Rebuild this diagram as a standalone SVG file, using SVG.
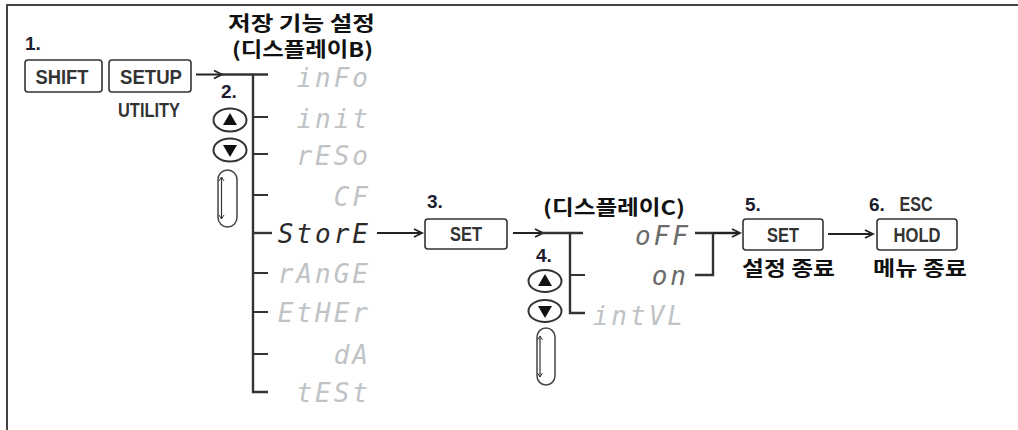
<svg xmlns="http://www.w3.org/2000/svg" width="1018" height="430" viewBox="0 0 1018 430">
<defs>
<style>
.frame{stroke:#444;stroke-width:2;fill:none}
.btn{fill:#fff;stroke:#333;stroke-width:1.6}
.btxt{font-family:"Liberation Sans",Arial,sans-serif;font-weight:bold;font-size:20px;fill:#333;text-anchor:middle}
.num{font-family:"Liberation Sans",Arial,sans-serif;font-weight:bold;font-size:19px;fill:#1c1c2e}
.kr{font-family:"Noto Sans CJK KR","Noto Sans",sans-serif;font-weight:bold;font-size:20px;fill:#111}
.seg{font-family:"DejaVu Sans Mono",monospace;font-style:italic;font-size:26px;letter-spacing:3px;text-anchor:end}
.off{fill:#bfc3c6}
.mid{fill:#6b6b6b}
.on{fill:#2a2a2a}
.ln{stroke:#333;stroke-width:2.4;fill:none}
.tk{stroke:#333;stroke-width:2;fill:none}
.ar{stroke:#222;stroke-width:2;fill:none;marker-end:url(#chev)}
.oval{fill:#fff;stroke:#333;stroke-width:2}
.tri{fill:#111}
.pill{fill:none;stroke:#444;stroke-width:1.5}
.dar{stroke:#333;stroke-width:1.2;fill:none;marker-start:url(#sch);marker-end:url(#sch)}
</style>
<marker id="chev" viewBox="0 0 10 10" markerWidth="10" markerHeight="10" refX="9" refY="5" orient="auto" markerUnits="userSpaceOnUse" overflow="visible">
<path d="M1,1 L9,5 L1,9" fill="none" stroke="#222" stroke-width="1.8"/>
</marker>
<marker id="sch" viewBox="0 0 6 6" markerWidth="6" markerHeight="6" refX="5" refY="3" orient="auto-start-reverse" markerUnits="userSpaceOnUse" overflow="visible">
<path d="M1,0.5 L5,3 L1,5.5" fill="none" stroke="#333" stroke-width="1"/>
</marker>
</defs>
<rect width="1018" height="430" fill="#fff"/>
<path class="frame" d="M7,430 V5 H1018"/>

<g id="title">
<text class="kr" x="228" y="31" font-size="18" textLength="147" lengthAdjust="spacingAndGlyphs">저장 기능 설정</text>
<text class="kr" x="232" y="57" font-size="18" textLength="141" lengthAdjust="spacingAndGlyphs">(디스플레이B)</text>
</g>

<g id="step1">
<text class="num" x="25" y="50">1.</text>
<rect class="btn" x="25" y="60" width="77" height="32" rx="3"/>
<text class="btxt" x="62" y="84" textLength="53" lengthAdjust="spacingAndGlyphs">SHIFT</text>
<rect class="btn" x="109" y="60" width="82" height="32" rx="3"/>
<text class="btxt" x="151" y="84" textLength="62" lengthAdjust="spacingAndGlyphs">SETUP</text>
<text class="btxt" x="149" y="117" font-size="18" textLength="62" lengthAdjust="spacingAndGlyphs">UTILITY</text>
</g>

<g id="step2">
<text class="num" x="221" y="98">2.</text>
<ellipse class="oval" cx="230" cy="120" rx="16.5" ry="11.5"/>
<polygon class="tri" points="223,125 237,125 230,113"/>
<ellipse class="oval" cx="230" cy="150" rx="16.5" ry="11.5"/>
<polygon class="tri" points="223,145 237,145 230,157"/>
<rect class="pill" x="218" y="170" width="19" height="57" rx="9.5"/>
<line class="dar" x1="221.5" y1="177" x2="221.5" y2="219"/>
</g>

<g id="menu">
<text class="seg off" x="371" y="87">inFo</text>
<text class="seg off" x="371" y="128">init</text>
<text class="seg off" x="371" y="165">rESo</text>
<text class="seg off" x="371" y="206">CF</text>
<text class="seg on" x="371" y="243">StorE</text>
<text class="seg off" x="371" y="283">rAnGE</text>
<text class="seg off" x="371" y="322">EtHEr</text>
<text class="seg off" x="371" y="364">dA</text>
<text class="seg off" x="371" y="402">tESt</text>
</g>

<g id="step3">
<text class="num" x="427" y="208">3.</text>
<rect class="btn" x="425" y="219" width="82" height="30" rx="3"/>
<text class="btxt" x="466" y="241" textLength="32" lengthAdjust="spacingAndGlyphs">SET</text>
</g>

<g id="displayC">
<text class="kr" x="543" y="215" font-size="18" textLength="142" lengthAdjust="spacingAndGlyphs">(디스플레이C)</text>
<text class="seg mid" x="691" y="245">oFF</text>
<text class="seg mid" x="689" y="285">on</text>
<text class="seg off" x="686" y="325">intVL</text>
</g>

<g id="step4">
<text class="num" x="536" y="262">4.</text>
<ellipse class="oval" cx="545" cy="281" rx="16.5" ry="11"/>
<polygon class="tri" points="538,286 552,286 545,274"/>
<ellipse class="oval" cx="545" cy="311" rx="16.5" ry="11"/>
<polygon class="tri" points="538,306 552,306 545,318"/>
<rect class="pill" x="537" y="328" width="18" height="57" rx="9"/>
<line class="dar" x1="540" y1="336" x2="540" y2="377"/>
</g>

<g id="step5">
<text class="num" x="745" y="211">5.</text>
<rect class="btn" x="743" y="219" width="80" height="31" rx="3"/>
<text class="btxt" x="783" y="242" textLength="32" lengthAdjust="spacingAndGlyphs">SET</text>
<text class="kr" x="742" y="276" font-size="20" textLength="93" lengthAdjust="spacingAndGlyphs">설정 종료</text>
</g>

<g id="step6">
<text class="num" x="869" y="211">6.</text>
<text class="btxt" x="916" y="211" font-size="18" textLength="33" lengthAdjust="spacingAndGlyphs">ESC</text>
<rect class="btn" x="877" y="219" width="80" height="31" rx="3"/>
<text class="btxt" x="917" y="242" textLength="47" lengthAdjust="spacingAndGlyphs">HOLD</text>
<text class="kr" x="873" y="276" font-size="20" textLength="94" lengthAdjust="spacingAndGlyphs">메뉴 종료</text>
</g>

<g id="connectors">
<path class="ar" d="M196,74.5 H222"/>
<path class="ln" d="M220,74.5 H268"/>
<path class="ln" d="M253,74 V392 H268"/>
<path class="tk" d="M253,117 H268 M253,154 H268 M253,195 H268 M253,273 H268 M253,312 H268 M253,354 H268"/>
<path class="ln" stroke-width="3" d="M253,233 H272"/>
<path class="ar" d="M377,233 H422"/>
<path class="ar" d="M513,233 H543"/>
<path class="ln" d="M541,233 H583"/>
<path class="ln" d="M570,233 V313 H585"/>
<path class="tk" d="M570,275 H585"/>
<path class="ln" d="M695,275 H713 V233"/>
<path class="ln" d="M695,233 H735"/>
<path class="ar" d="M713,233 H740"/>
<path class="ar" d="M828,234 H873"/>
</g>
</svg>
